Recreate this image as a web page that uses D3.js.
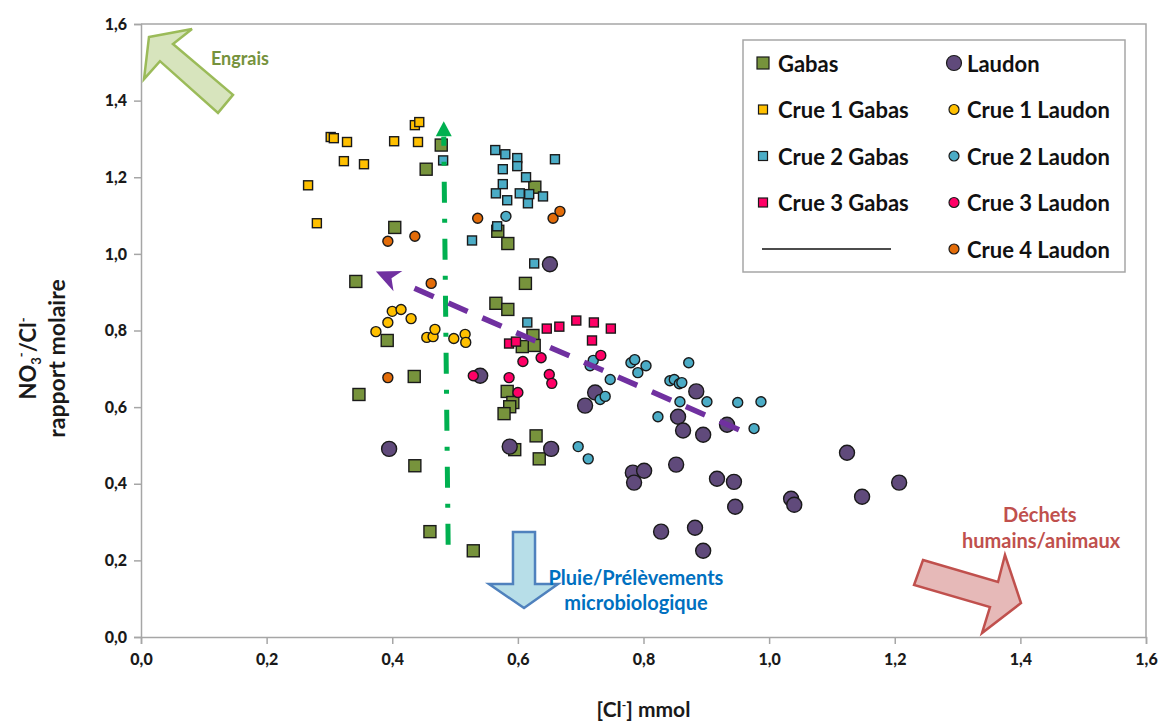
<!DOCTYPE html>
<html>
<head>
<meta charset="utf-8">
<script src="https://cdn.jsdelivr.net/npm/d3@7"></script>
<style>
  body { margin: 0; background: #fff; }
  text { font-family: Lato, "Open Sans", sans-serif; }
</style>
</head>
<body>
<div id="chart"></div>
<script>
// [Cl-] (mmol), NO3/Cl molar ratio
const gabas = [
  [0.478, 1.284], [0.454, 1.221], [0.404, 1.069], [0.342, 0.928], [0.627, 1.174],
  [0.568, 1.059], [0.584, 1.027], [0.612, 0.923], [0.565, 0.871], [0.584, 0.855],
  [0.624, 0.787], [0.626, 0.761], [0.607, 0.758], [0.392, 0.774], [0.435, 0.680],
  [0.347, 0.633], [0.583, 0.641], [0.592, 0.612], [0.587, 0.601], [0.578, 0.583],
  [0.629, 0.525], [0.634, 0.465], [0.595, 0.489], [0.436, 0.447], [0.460, 0.275],
  [0.529, 0.225]
];
const crue1Gabas = [
  [0.302, 1.305], [0.307, 1.302], [0.328, 1.292], [0.323, 1.242], [0.355, 1.234],
  [0.266, 1.179], [0.280, 1.080], [0.403, 1.294], [0.441, 1.292], [0.436, 1.336],
  [0.443, 1.344]
];
const crue2Gabas = [
  [0.564, 1.271], [0.580, 1.260], [0.599, 1.250], [0.599, 1.229], [0.576, 1.221],
  [0.576, 1.182], [0.565, 1.158], [0.583, 1.140], [0.613, 1.200], [0.603, 1.158],
  [0.618, 1.156], [0.616, 1.132], [0.640, 1.150], [0.659, 1.247], [0.567, 1.072],
  [0.527, 1.035], [0.626, 0.975], [0.481, 1.244], [0.615, 0.821]
];
const crue3Gabas = [
  [0.646, 0.805], [0.666, 0.810], [0.693, 0.826], [0.721, 0.821], [0.748, 0.805],
  [0.718, 0.774], [0.586, 0.766], [0.597, 0.771]
];
const laudon = [
  [0.651, 0.973], [0.540, 0.682], [0.395, 0.491], [0.587, 0.497], [0.653, 0.491],
  [0.723, 0.638], [0.707, 0.604], [0.884, 0.641], [0.855, 0.575], [0.863, 0.539],
  [0.895, 0.528], [0.933, 0.554], [0.783, 0.429], [0.801, 0.434], [0.785, 0.403],
  [0.852, 0.450], [0.917, 0.413], [0.944, 0.405], [0.946, 0.340], [1.124, 0.481],
  [1.035, 0.361], [1.040, 0.345], [1.148, 0.366], [1.207, 0.403], [0.828, 0.275],
  [0.882, 0.285], [0.895, 0.225]
];
const crue1Laudon = [
  [0.374, 0.797], [0.393, 0.821], [0.400, 0.850], [0.414, 0.855], [0.430, 0.831],
  [0.455, 0.782], [0.465, 0.784], [0.468, 0.803], [0.498, 0.779], [0.516, 0.790],
  [0.517, 0.769]
];
const crue2Laudon = [
  [0.581, 1.098], [0.715, 0.708], [0.720, 0.722], [0.747, 0.672], [0.731, 0.620],
  [0.739, 0.628], [0.780, 0.716], [0.786, 0.724], [0.804, 0.708], [0.791, 0.690],
  [0.842, 0.669], [0.849, 0.672], [0.857, 0.661], [0.861, 0.664], [0.872, 0.716],
  [0.858, 0.614], [0.901, 0.614], [0.950, 0.612], [0.987, 0.614], [0.823, 0.575],
  [0.976, 0.544], [0.696, 0.497], [0.712, 0.465]
];
const crue3Laudon = [
  [0.608, 0.719], [0.637, 0.729], [0.650, 0.685], [0.654, 0.662], [0.586, 0.677],
  [0.600, 0.638], [0.732, 0.735], [0.529, 0.682]
];
const crue4Laudon = [
  [0.393, 1.033], [0.436, 1.046], [0.536, 1.093], [0.656, 1.093], [0.667, 1.111],
  [0.462, 0.923], [0.393, 0.677]
];
const ticks = [0, 0.2, 0.4, 0.6, 0.8, 1.0, 1.2, 1.4, 1.6];

// trend arrows (data units)
const trendNO3 = [[0.489, 0.241], [0.482, 1.346]];
const trendCl = [[0.952, 0.541], [0.374, 0.954]];

const series = [
  {name: "Gabas", data: gabas, color: "#77933C", shape: "square", size: 12},
  {name: "Laudon", data: laudon, color: "#604A7B", shape: "circle", size: 15},
  {name: "Crue 1 Gabas", data: crue1Gabas, color: "#FFC000", shape: "square", size: 9},
  {name: "Crue 1 Laudon", data: crue1Laudon, color: "#FFC000", shape: "circle", size: 10},
  {name: "Crue 2 Gabas", data: crue2Gabas, color: "#4BACC6", shape: "square", size: 9},
  {name: "Crue 2 Laudon", data: crue2Laudon, color: "#4BACC6", shape: "circle", size: 10},
  {name: "Crue 3 Gabas", data: crue3Gabas, color: "#FF0066", shape: "square", size: 9},
  {name: "Crue 3 Laudon", data: crue3Laudon, color: "#FF0066", shape: "circle", size: 10},
  {name: "Crue 4 Laudon", data: crue4Laudon, color: "#E36C09", shape: "circle", size: 10}
];

const margin = {top: 24, right: 15, bottom: 86, left: 141},
    width = 1161 - margin.left - margin.right,
    height = 723 - margin.top - margin.bottom;

const svg = d3.select("#chart")
    .append("svg")
    .attr("width", width + margin.left + margin.right)
    .attr("height", height + margin.top + margin.bottom)
    .append("g")
    .attr("transform", `translate(${margin.left},${margin.top})`);

const x = d3.scaleLinear().domain([0, 1.6]).range([0, width]);
const y = d3.scaleLinear().domain([0, 1.6]).range([height, 0]);
const fmt = d => d3.format(".1f")(d).replace(".", ",");

// plot frame (top / right)
svg.append("path")
    .attr("d", `M0,0H${width}V${height}`)
    .attr("fill", "none")
    .attr("stroke", "#A6A6A6")
    .attr("stroke-width", 1.5);

const xAxis = svg.append("g")
    .attr("transform", `translate(0,${height})`)
    .call(d3.axisBottom(x).tickValues(ticks).tickFormat(fmt).tickSize(7).tickPadding(10));

const yAxis = svg.append("g")
    .call(d3.axisLeft(y).tickValues(ticks).tickFormat(fmt).tickSize(7).tickPadding(7));

[xAxis, yAxis].forEach(a => {
    a.select(".domain").attr("stroke", "#A6A6A6").attr("stroke-width", 1.5);
    a.selectAll(".tick line").attr("stroke", "#A6A6A6").attr("stroke-width", 1.5);
    a.selectAll(".tick text")
        .style("font-family", "Lato, sans-serif")
        .style("font-size", "16px")
        .style("font-weight", "900")
        .attr("fill", "#1a1a1a");
});

svg.append("text")
    .attr("text-anchor", "middle")
    .attr("x", width / 2)
    .attr("y", height + 80)
    .style("font-size", "21px")
    .style("font-weight", "700")
    .attr("fill", "#1a1a1a")
    .html('[Cl<tspan dy="-8" font-size="12px">-</tspan><tspan dy="8">] mmol</tspan>');

const yTitle = svg.append("text")
    .attr("transform", `translate(${-105},${height / 2 + 28}) rotate(-90)`)
    .attr("text-anchor", "middle")
    .style("font-size", "22px")
    .style("font-weight", "700")
    .attr("fill", "#1a1a1a");
yTitle.append("tspan").attr("x", 0).attr("y", 0).text("NO");
yTitle.append("tspan").attr("dy", 5).style("font-size", "13px").text("3");
yTitle.append("tspan").attr("dy", -15).style("font-size", "13px").text("-");
yTitle.append("tspan").attr("dy", 10).text("/Cl");
yTitle.append("tspan").attr("dy", -8).style("font-size", "13px").text("-");
yTitle.append("tspan").attr("x", 0).attr("y", 29).style("font-size", "23px").text("rapport molaire");

// annotation block arrows
const line = d3.line().x(d => x(d[0])).y(d => y(d[1]));
const engrais = [[0.0127, 1.566], [0.0812, 1.587], [0.0509, 1.548], [0.1465, 1.415],
    [0.1226, 1.368], [0.0302, 1.503], [0.0048, 1.456]];
const pluie = [[0.5922, 0.2741], [0.6273, 0.2741], [0.6273, 0.1383], [0.6639, 0.1383],
    [0.6098, 0.0757], [0.5540, 0.1383], [0.5922, 0.1383]];
const dechets = [[1.245, 0.201], [1.3644, 0.1436], [1.3755, 0.214], [1.401, 0.0887],
    [1.3389, 0.0104], [1.3516, 0.0783], [1.2307, 0.1357]];

svg.append("path").attr("d", line(engrais) + "Z")
    .attr("fill", "#D7E4BD").attr("stroke", "#9BBB59").attr("stroke-width", 2.5);
svg.append("path").attr("d", line(pluie) + "Z")
    .attr("fill", "#B7DEE8").attr("stroke", "#4F81BD").attr("stroke-width", 2.5);
svg.append("path").attr("d", line(dechets) + "Z")
    .attr("fill", "#E6B9B8").attr("stroke", "#C0504D").attr("stroke-width", 2.5);

const label = (txt, px, py, color, size) => svg.append("text")
    .attr("x", x(px)).attr("y", y(py))
    .attr("text-anchor", "middle")
    .attr("dominant-baseline", "middle")
    .style("font-size", size + "px")
    .style("font-weight", "700")
    .attr("fill", color)
    .text(txt);

label("Engrais", 0.1576, 1.505, "#76923C", 18);
label("Pluie/Prélèvements", 0.788, 0.150, "#0070C0", 20);
label("microbiologique", 0.788, 0.083, "#0070C0", 20);
label("Déchets", 1.431, 0.313, "#C0504D", 20);
label("humains/animaux", 1.433, 0.245, "#C0504D", 20);

// points
series.forEach(s => {
    const g = svg.append("g");
    if (s.shape === "square") {
        g.selectAll("rect").data(s.data).enter().append("rect")
            .attr("x", d => x(d[0]) - s.size / 2)
            .attr("y", d => y(d[1]) - s.size / 2)
            .attr("width", s.size).attr("height", s.size)
            .attr("fill", s.color).attr("stroke", "#1a1a1a").attr("stroke-width", 1.4);
    } else {
        g.selectAll("circle").data(s.data).enter().append("circle")
            .attr("cx", d => x(d[0])).attr("cy", d => y(d[1]))
            .attr("r", s.size / 2)
            .attr("fill", s.color).attr("stroke", "#1a1a1a").attr("stroke-width", 1.4);
    }
});

// trend arrows
svg.append("path").attr("d", line(trendNO3.map((d, i) => i ? [d[0], d[1] - 0.04] : d)))
    .attr("stroke", "#00B050").attr("stroke-width", 5).attr("fill", "none")
    .attr("stroke-dasharray", "21 16 4 16");
{
    const tx = x(trendNO3[1][0]), ty = y(trendNO3[1][1]);
    svg.append("path").attr("d", `M${tx},${ty}L${tx + 8},${ty + 15}L${tx - 8},${ty + 15}Z`)
        .attr("fill", "#00B050");
}
{
    const p0 = trendCl[0], p1 = trendCl[1];
    const x0 = x(p0[0]), y0 = y(p0[1]), x1 = x(p1[0]), y1 = y(p1[1]);
    const len = Math.hypot(x1 - x0, y1 - y0), ux = (x1 - x0) / len, uy = (y1 - y0) / len;
    svg.append("line")
        .attr("x1", x0).attr("y1", y0)
        .attr("x2", x1 - ux * 34).attr("y2", y1 - uy * 34)
        .attr("stroke", "#7030A0").attr("stroke-width", 5.5)
        .attr("stroke-dasharray", "21 16");
    // stealth head
    const bx = x1 - ux * 24, by = y1 - uy * 24, nx = x1 - ux * 17, ny = y1 - uy * 17;
    svg.append("path")
        .attr("d", `M${x1},${y1}L${bx - uy * 11},${by + ux * 11}L${nx},${ny}L${bx + uy * 11},${by - ux * 11}Z`)
        .attr("fill", "#7030A0");
}

// legend
const legend = svg.append("g").attr("transform", `translate(${743 - margin.left},${40 - margin.top})`);
legend.append("rect").attr("width", 382).attr("height", 232)
    .attr("fill", "#fff").attr("stroke", "#A6A6A6").attr("stroke-width", 1.5);

const leftCol = ["Gabas", "Crue 1 Gabas", "Crue 2 Gabas", "Crue 3 Gabas"];
const rightCol = ["Laudon", "Crue 1 Laudon", "Crue 2 Laudon", "Crue 3 Laudon", "Crue 4 Laudon"];
const rowY = i => 23 + i * 46.5;

function legendItem(name, col, row) {
    const s = series.find(d => d.name === name);
    const mx = col === 0 ? 20 : 211, tx = col === 0 ? 35 : 224;
    const cy = rowY(row);
    const sz = s.size;
    if (s.shape === "square") {
        legend.append("rect").attr("x", mx - sz / 2).attr("y", cy - sz / 2)
            .attr("width", sz).attr("height", sz)
            .attr("fill", s.color).attr("stroke", "#1a1a1a").attr("stroke-width", 1.2);
    } else {
        legend.append("circle").attr("cx", mx).attr("cy", cy).attr("r", sz / 2)
            .attr("fill", s.color).attr("stroke", "#1a1a1a").attr("stroke-width", 1.2);
    }
    legend.append("text").attr("x", tx).attr("y", cy)
        .attr("dominant-baseline", "central")
        .style("font-size", "22px").style("font-weight", "700")
        .attr("fill", "#111")
        .text(name);
}
leftCol.forEach((n, i) => legendItem(n, 0, i));
rightCol.forEach((n, i) => legendItem(n, 1, i));
legend.append("line").attr("x1", 19).attr("x2", 148)
    .attr("y1", rowY(4)).attr("y2", rowY(4))
    .attr("stroke", "#111").attr("stroke-width", 1.3);
</script>
</body>
</html>
